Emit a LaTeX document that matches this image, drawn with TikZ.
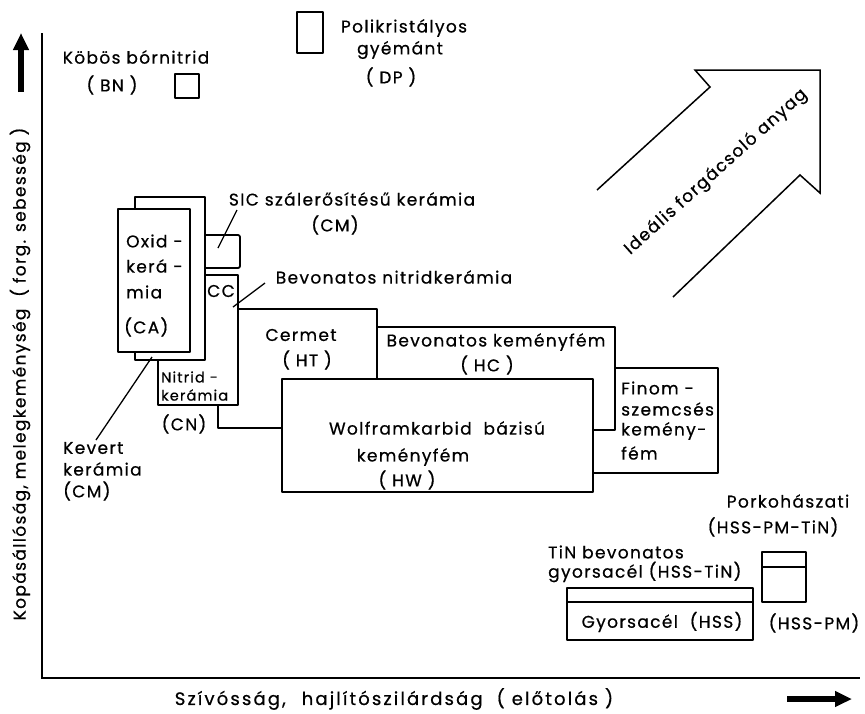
\documentclass[tikz,border=0pt]{standalone}
\usepackage{fontspec}
\setmainfont{Poppins}[LetterSpace=8, FakeBold=0.6]
\usetikzlibrary{arrows.meta}
\newcommand{\lblfnt}{\fontsize{17}{20}\selectfont}
\newcommand{\smallfnt}{\fontsize{14.5}{17}\selectfont}
\newcommand{\axfnt}{\fontsize{18}{21}\selectfont\addfontfeature{LetterSpace=12}}
\tikzset{
  boxline/.style={line width=1.8pt, fill=white, line join=round},
  lbl/.style={font=\lblfnt, inner sep=0pt},
  slbl/.style={font=\smallfnt, inner sep=0pt},
  axlbl/.style={font=\axfnt, inner sep=0pt},
  leader/.style={line width=1.3pt},
  bigarrow/.style={line width=5.5pt, -{Triangle[length=17pt,width=15pt]}},
}
\begin{document}
\begin{tikzpicture}[x=1pt,y=-1pt]
\useasboundingbox[fill=white] (0,0) rectangle (865,713);
% axes
\draw[line width=1.8pt] (42,33) -- (42,678) -- (860,678);
\draw[bigarrow] (21,92) -- (21,33);
\draw[bigarrow] (787,699) -- (852,699);
\node[lbl, rotate=90] (ylab) at (20,374) {Kopásállóság,\ melegkeménység \ ( forg. sebesség )};
\node[axlbl] (xlab) at (394,699) {Szívósság,\hspace{16pt}hajlítószilárdság\hspace{14pt}( előtolás )};
% Finom box
\draw[boxline] (593,368) rectangle (718,473);
% HC
\draw[boxline] (377,327) rectangle (615,430);
% Cermet
\draw[boxline] (218,309) rectangle (377,428);
% Nitrid / CC
\draw[boxline] (158,275) rectangle (238,405);
% SIC
\draw[boxline, rounded corners=2pt] (195,235) rectangle (240,268);
% Oxid back and front
\draw[boxline] (135,197) rectangle (205,360);
\draw[boxline] (118,209) rectangle (190,352);
% HW
\draw[boxline] (282,379) rectangle (593,492);
% HSS
\draw[boxline] (567,588) rectangle (753,640);
\draw[line width=1.8pt] (567,602) -- (753,602);
\draw[boxline] (762,552) rectangle (806,602);
\draw[line width=1.8pt] (762,567) -- (806,567);
% BN, DP
\draw[boxline] (175,74) rectangle (199,98);
\draw[boxline] (297,12) rectangle (323,53);
% ideal arrow
\draw[line width=1.5pt, line join=miter] (597,190) -- (710,87) -- (695,70) -- (820,70) -- (820,193) -- (800,175) -- (673,297);
\node[lbl, rotate=42] (ideal) at (716,172) {Ideális forgácsoló anyag};
% labels
\node[lbl] (bn1) at (136,57) {Köbös bórnitrid};
\node[lbl] (bn2) at (112,85) {( BN )};
\node[lbl] (dp1) at (404,28) {Polikristályos};
\node[lbl] (dp2) at (400,50) {gyémánt};
\node[lbl] (dp3) at (391,77) {( DP )};
\node[lbl] (sic1) at (352,199) {SIC szálerősítésű kerámia};
\node[lbl] (sic2) at (335,225) {(CM)};
\node[lbl] (bnk) at (394,277) {Bevonatos nitridkerámia};
\node[lbl, anchor=west] (ox1) at (126,241) {Oxid -};
\node[lbl, anchor=west] (ox2) at (126,266) {kerá -};
\node[lbl, anchor=west] (ox3) at (126,292) {mia};
\node[lbl, anchor=west] (ox4) at (124,327) {(CA)};
\node[lbl] (cc) at (221,291) {CC};
\node[slbl, anchor=west] (ni1) at (161,377) {Nitrid -};
\node[slbl, anchor=west] (ni2) at (161,395) {kerámia};
\node[lbl] (cn) at (184,424) {(CN)};
\node[lbl] (ce1) at (301,335) {Cermet};
\node[lbl] (ce2) at (307,360) {( HT )};
\node[lbl] (hc1) at (496,342) {Bevonatos keményfém};
\node[lbl] (hc2) at (487,365) {( HC )};
\node[lbl, anchor=west] (fi1) at (621,388) {Finom -};
\node[lbl, anchor=west] (fi2) at (621,409) {szemcsés};
\node[lbl, anchor=west] (fi3) at (621,431) {kemény-};
\node[lbl, anchor=west] (fi4) at (621,453) {fém};
\node[lbl] (hw1) at (437,428) {Wolframkarbid \ bázisú};
\node[lbl] (hw2) at (413,457) {keményfém};
\node[lbl] (hw3) at (407,480) {( HW )};
\node[lbl, anchor=west] (ke1) at (63,448) {Kevert};
\node[lbl, anchor=west] (ke2) at (63,469) {kerámia};
\node[lbl, anchor=west] (ke3) at (63,491) {(CM)};
\node[lbl] (pk1) at (788,501) {Porkohászati};
\node[lbl] (pk2) at (773,527) {(HSS-PM-TiN)};
\node[lbl, anchor=west] (tin1) at (548,552) {TiN bevonatos};
\node[lbl, anchor=west] (tin2) at (548,572) {gyorsacél (HSS-TiN)};
\node[lbl] (hss) at (662,622) {Gyorsacél \ (HSS)};
\node[lbl] (pm) at (814,623) {(HSS-PM)};
% leaders
\coordinate (sicA) at (237,210);
\coordinate (sicB) at (218,248);
\coordinate (ccA) at (265,283);
\coordinate (ccB) at (233,307);
\coordinate (keA) at (152,357);
\coordinate (keB) at (96,440);
\draw[leader] (sicA) -- (sicB);
\draw[leader] (ccA) -- (ccB);
\draw[leader] (keA) -- (keB);
\end{tikzpicture}
\end{document}
